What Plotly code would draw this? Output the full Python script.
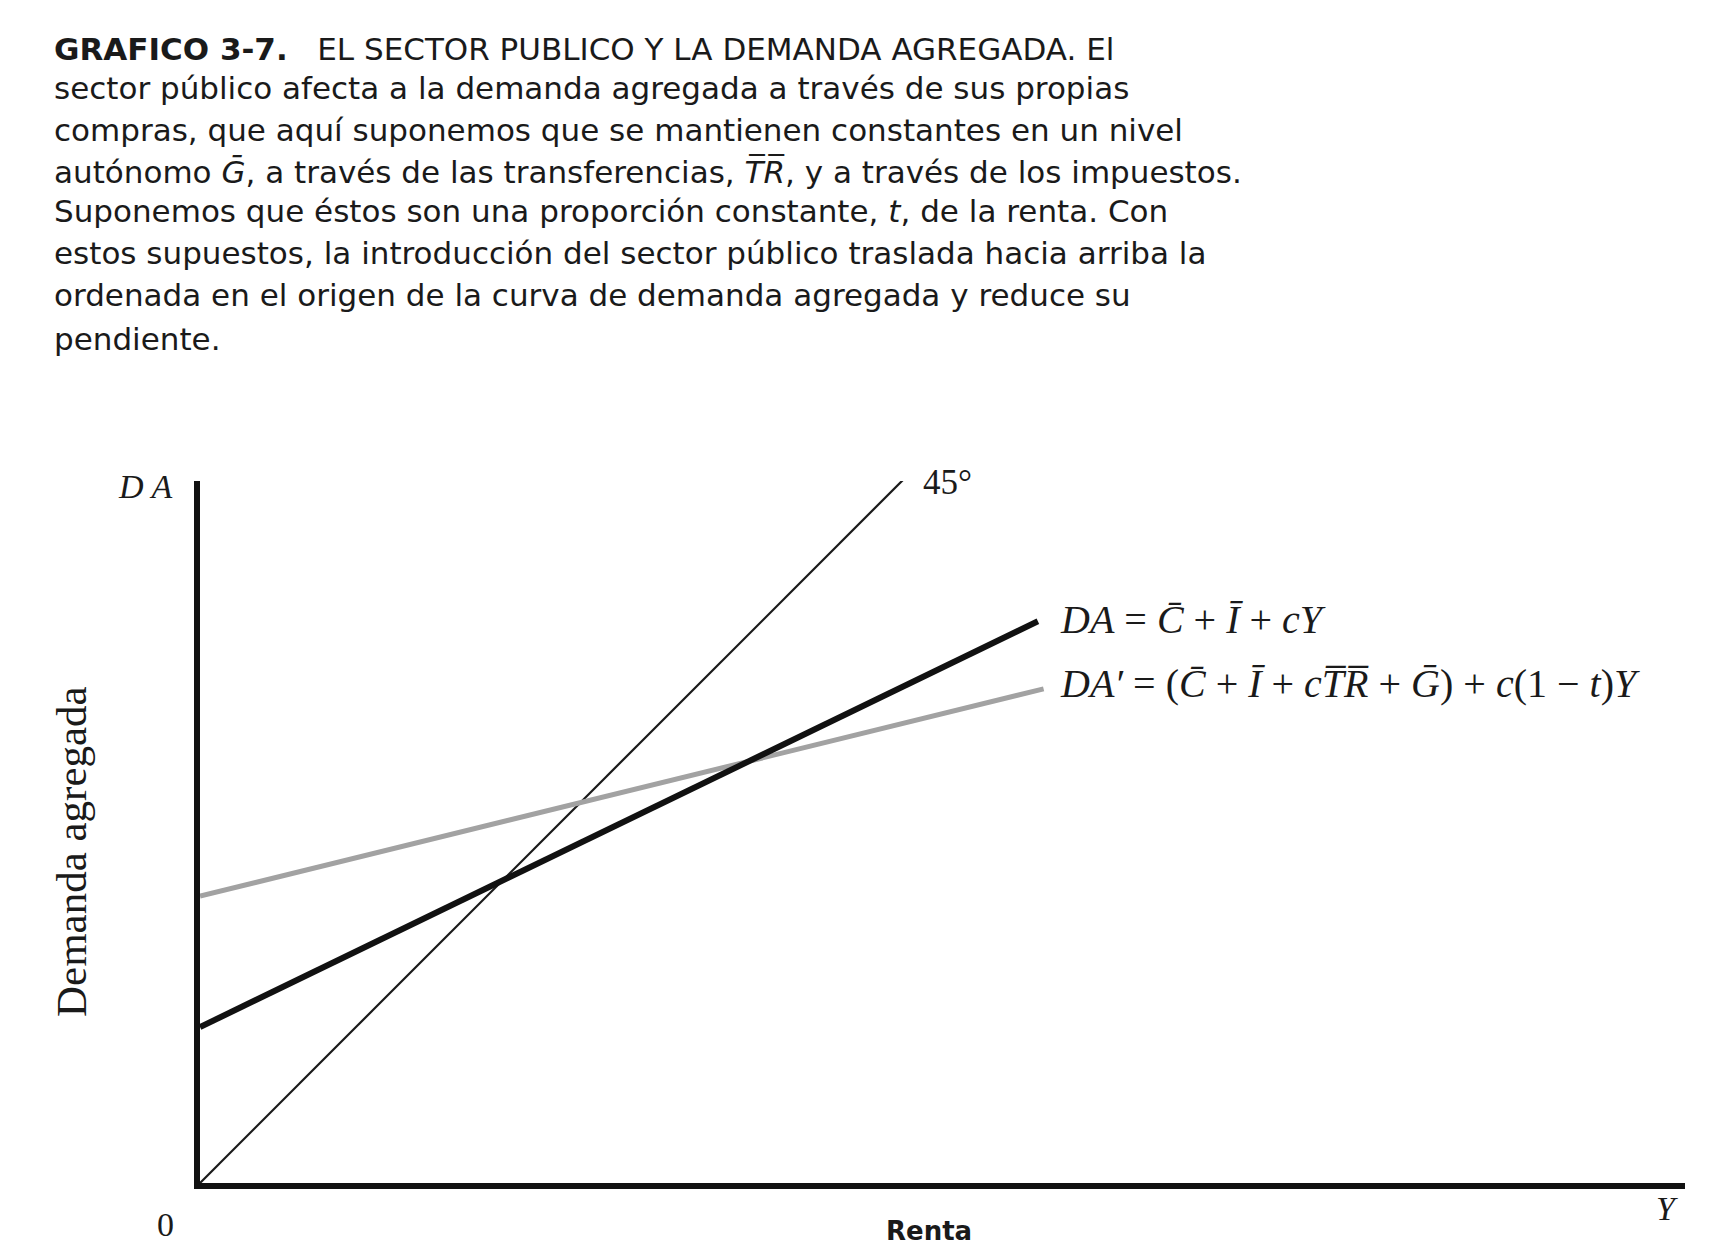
import plotly.graph_objects as go

# ---- data (abstract units; 45-degree line has equal scales) ----
line45_x = [0, 100]
line45_y = [0, 100]
da_x = [0, 117.7]
da_y = [21.9, 78.9]
da2_x = [0, 118.5]
da2_y = [40.3, 69.4]

x_range = [0, 208.6]
y_range = [0, 98.6]

W, H = 1723, 1249
L, R, T, B = 200, 38, 481, 66
PW, PH = W - L - R, H - T - B

def px(X):
    return (X - L) / PW

def py(Y):
    return (H - B - Y) / PH

fig = go.Figure()
fig.add_trace(go.Scatter(x=line45_x, y=line45_y, mode="lines",
                         line=dict(color="#1a1a1a", width=2.2), cliponaxis=False, hoverinfo="skip"))
fig.add_trace(go.Scatter(x=da2_x, y=da2_y, mode="lines",
                         line=dict(color="#a2a2a2", width=5), cliponaxis=False, hoverinfo="skip"))
fig.add_trace(go.Scatter(x=da_x, y=da_y, mode="lines",
                         line=dict(color="#111111", width=6), cliponaxis=False, hoverinfo="skip"))

title_lines = [
    "<b>GRAFICO 3-7.</b>   EL SECTOR PUBLICO Y LA DEMANDA AGREGADA. El",
    "sector público afecta a la demanda agregada a través de sus propias",
    "compras, que aquí suponemos que se mantienen constantes en un nivel",
    "autónomo <i>Ḡ</i>, a través de las transferencias, <i>T̅R̅</i>, y a través de los impuestos.",
    "Suponemos que éstos son una proporción constante, <i>t</i>, de la renta. Con",
    "estos supuestos, la introducción del sector público traslada hacia arriba la",
    "ordenada en el origen de la curva de demanda agregada y reduce su",
    "pendiente.",
]
title_y = [49, 88, 130, 171, 211, 253, 295, 339]

ann = []
for t, yy in zip(title_lines, title_y):
    ann.append(dict(text=t, x=px(52), y=py(yy), xanchor="left", yanchor="middle",
                    font=dict(family="DejaVu Sans, Liberation Sans", size=31, color="#1a1a1a")))

serif = "Liberation Serif, Times New Roman"
ink = "#1a1a1a"
ann += [
    dict(text="<i>D A</i>", x=px(174), y=py(486), xanchor="right", yanchor="middle",
         font=dict(family=serif, size=34, color=ink)),
    dict(text="45°", x=px(921), y=py(483), xanchor="left", yanchor="middle",
         font=dict(family=serif, size=35, color=ink)),
    dict(text="<i>DA</i> = <i>C̄</i> + <i>Ī</i> + <i>cY</i>", x=px(1058), y=py(619),
         xanchor="left", yanchor="middle", font=dict(family=serif, size=40, color=ink)),
    dict(text="<i>DA′</i> = (<i>C̄</i> + <i>Ī</i> + <i>cT̅R̅</i> + <i>Ḡ</i>) + <i>c</i>(1 − <i>t</i>)<i>Y</i>",
         x=px(1058), y=py(683), xanchor="left", yanchor="middle",
         font=dict(family=serif, size=40, color=ink)),
    dict(text="Demanda agregada", x=px(71), y=py(852), textangle=-90,
         xanchor="center", yanchor="middle", font=dict(family=serif, size=43, color=ink)),
    dict(text="0", x=px(165), y=py(1224), xanchor="center", yanchor="middle",
         font=dict(family=serif, size=34, color=ink)),
    dict(text="<i>Y</i>", x=px(1667), y=py(1208), xanchor="center", yanchor="middle",
         font=dict(family=serif, size=34, color=ink)),
    dict(text="<b>Renta</b>", x=px(929), y=py(1248), xanchor="center", yanchor="bottom",
         font=dict(family="DejaVu Sans, Liberation Sans", size=26, color=ink)),
]
for a in ann:
    a.setdefault("xref", "paper")
    a.setdefault("yref", "paper")
    a.setdefault("showarrow", False)

fig.update_layout(
    width=W, height=H, autosize=False,
    margin=dict(l=L, r=R, t=T, b=B, pad=0),
    paper_bgcolor="white", plot_bgcolor="white",
    showlegend=False, annotations=ann,
    xaxis=dict(range=x_range, showgrid=False, zeroline=False, showticklabels=False,
               ticks="", showline=True, linecolor="#111111", linewidth=6, fixedrange=True),
    yaxis=dict(range=y_range, showgrid=False, zeroline=False, showticklabels=False,
               ticks="", showline=True, linecolor="#111111", linewidth=6, fixedrange=True),
)

fig.write_html("out.html", config={"displayModeBar": False},
               post_script="document.body.style.margin='0';document.body.style.overflow='hidden';")
